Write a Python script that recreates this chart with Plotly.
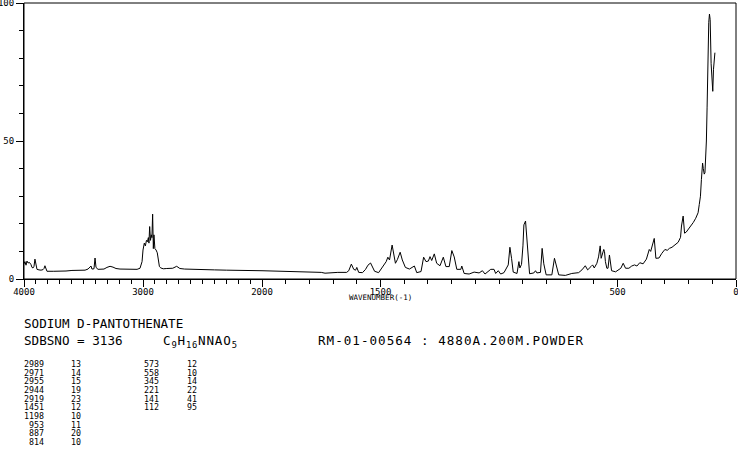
import plotly.graph_objects as go

# ---------------- data ----------------
spec_wn = [4000, 3992, 3983, 3975, 3966, 3954, 3941, 3933, 3924, 3916, 3908, 3899, 3891, 3874, 3857,
           3840, 3832, 3824, 3815, 3807, 3750, 3697, 3647, 3597, 3540, 3487, 3462, 3445, 3437, 3429,
           3412, 3403, 3395, 3378, 3328, 3303, 3277, 3252, 3227, 3193, 3150, 3109, 3050, 3025, 3008,
           3000, 2992, 2989, 2980, 2971, 2963, 2955, 2950, 2944, 2937, 2930, 2925, 2919, 2913, 2908,
           2900, 2890, 2880, 2872, 2862, 2850, 2830, 2800, 2750, 2717, 2690, 2650, 2600, 2500, 2400,
           2300, 2200, 2100, 2000,
           1950, 1900, 1850, 1800, 1750, 1734, 1714, 1680, 1643, 1634, 1623, 1618, 1613, 1605, 1600,
           1592, 1576, 1563, 1553, 1542, 1534, 1525, 1508, 1490, 1476, 1469, 1462, 1451, 1444, 1437,
           1429, 1417, 1408, 1395, 1378, 1357, 1347, 1329, 1318, 1308, 1298, 1291, 1284, 1273, 1263,
           1249, 1235, 1224, 1210, 1199, 1189, 1178, 1161, 1157, 1147, 1126, 1105, 1084, 1070, 1059,
           1035, 1021, 1014, 1003, 993, 979, 961, 954, 947, 940, 924, 916, 912, 905, 899,
           895, 888, 883, 878, 871, 853, 846, 840, 825, 818, 811, 801, 777, 766, 759,
           748, 720, 693, 664, 650, 636, 626, 612, 605, 598, 587, 580, 576, 573, 569,
           564, 558, 555, 551, 545, 540, 534, 529, 525, 508, 500, 486, 476, 466, 452,
           440, 428, 418, 406, 392, 378, 366, 360, 352, 345, 338, 325, 313, 300, 290,
           281, 270, 259, 244, 234, 230, 223, 217, 210, 201, 190, 180, 170, 160, 155,
           150, 146, 143, 141, 138, 134, 131, 128, 125, 122, 118, 115, 112, 109, 105,
           100, 98, 95, 92, 89]
spec_int = [5.5, 6.3, 5.0, 6.5, 5.8, 6.0, 5.2, 4.2, 4.0, 4.6, 7.2, 5.5, 3.5, 3.3, 3.2,
            3.4, 3.8, 4.8, 3.6, 2.8, 2.8, 2.8, 2.9, 3.1, 3.1, 3.2, 3.6, 4.5, 4.7, 3.6,
            3.7, 7.6, 4.2, 3.5, 3.6, 4.2, 4.6, 4.3, 3.8, 3.6, 3.6, 3.6, 3.5, 3.9, 6.3,
            10.5, 12.0, 13.0, 12.0, 14.0, 13.5, 15.0, 13.0, 19.0, 14.0, 16.0, 15.0, 23.5, 11.0, 16.0,
            11.0, 10.5, 9.5, 6.5, 4.5, 4.0, 3.7, 3.8, 3.9, 4.6, 3.8, 3.6, 3.5, 3.4, 3.3,
            3.2, 3.2, 3.2, 3.0,
            2.9, 2.7, 2.6, 2.5, 2.4, 2.1, 2.3, 2.4, 2.4, 3.0, 5.4, 4.5, 3.5, 3.2, 4.2,
            2.4, 2.3, 3.5, 5.0, 5.8, 4.5, 2.8, 2.3, 4.5, 6.3, 7.9, 6.9, 12.3, 9.3, 5.7,
            7.0, 9.7, 6.9, 4.2, 3.6, 4.7, 2.3, 2.7, 7.9, 6.3, 6.5, 8.1, 6.7, 9.1, 5.7,
            4.8, 7.9, 4.5, 4.5, 10.3, 8.0, 3.5, 3.5, 4.7, 2.0, 1.8, 2.5, 2.2, 3.0, 1.8,
            3.5, 3.5, 2.0, 3.0, 1.8, 2.3, 5.1, 11.5, 7.5, 2.5, 2.0, 6.3, 4.0, 5.3, 12.0,
            19.6, 21.0, 14.7, 7.0, 1.9, 2.2, 3.0, 2.2, 2.4, 11.1, 5.5, 1.5, 1.5, 7.5, 4.8,
            1.5, 1.3, 2.0, 2.3, 3.3, 4.8, 3.3, 4.5, 5.1, 4.0, 5.7, 8.0, 11.0, 12.0, 7.5,
            9.0, 10.7, 10.0, 6.3, 3.9, 3.9, 8.7, 4.6, 3.0, 2.6, 3.0, 3.9, 5.7, 3.9, 3.9,
            4.7, 5.1, 4.7, 5.9, 5.5, 7.2, 10.7, 10.0, 12.9, 14.7, 7.5, 7.6, 9.3, 10.7, 10.4,
            11.1, 11.5, 12.3, 13.3, 15.1, 19.2, 22.8, 16.6, 17.0, 18.0, 19.0, 20.5, 22.0, 24.0, 27.0,
            30.0, 36.0, 40.0, 42.0, 40.0, 38.0, 38.5, 44.0, 50.0, 62.0, 85.0, 93.0, 96.0, 94.0, 78.0,
            70.0, 68.0, 76.0, 78.0, 82.0]

peak_wn_1 = [2989, 2971, 2955, 2944, 2919, 1451, 1198, 953, 887, 814]
peak_int_1 = [13, 14, 15, 19, 23, 12, 10, 11, 20, 10]
peak_wn_2 = [573, 558, 345, 221, 141, 112]
peak_int_2 = [12, 10, 14, 22, 41, 95]

x_ticks_hi = [4000, 3000, 2000]
x_ticks_lo = [1500, 500, 0]
y_ticks = [0, 50, 100]

compound = "SODIUM D-PANTOTHENATE"
sdbs_line = "SDBSNO = 3136"
formula = "C<sub>9</sub>H<sub>16</sub>NNAO<sub>5</sub>"
sample = "RM-01-00564 : 4880A.200M.POWDER"
x_title = "WAVENUMBER(-1)"

# ---------------- layout helpers ----------------
W, H = 738, 457
L, R, T, B = 24, 2, 3, 178
PW, PH = W - L - R, H - T - B
split = 238 / PW
MONO = "DejaVu Sans Mono, Liberation Mono, monospace"


def px(x):
    return (x - L) / PW


def py(y):
    return (H - B - y) / PH


hi_wn = [w for w in spec_wn if w >= 2000]
hi_int = [v for w, v in zip(spec_wn, spec_int) if w >= 2000]
lo_wn = [w for w in spec_wn if w <= 2000]
lo_int = [v for w, v in zip(spec_wn, spec_int) if w <= 2000]

fig = go.Figure()
fig.add_trace(go.Scatter(x=hi_wn, y=hi_int, mode="lines", line=dict(color="black", width=1),
                         xaxis="x", yaxis="y", hoverinfo="skip", cliponaxis=False))
fig.add_trace(go.Scatter(x=lo_wn, y=lo_int, mode="lines", line=dict(color="black", width=1),
                         xaxis="x2", yaxis="y", hoverinfo="skip", cliponaxis=False))

axis_common = dict(showgrid=False, zeroline=False, showline=True, linecolor="black", linewidth=1,
                   ticks="outside", ticklen=7, tickwidth=1, tickcolor="black",
                   ticklabeloverflow="allow",
                   tickfont=dict(family=MONO, size=9, color="black"), automargin=False)
minor_x = dict(tickmode="linear", tick0=0, dtick=100, ticks="outside", ticklen=4,
               tickcolor="black", showgrid=False)

fig.update_layout(
    width=W, height=H, margin=dict(l=L, r=R, t=T, b=B, pad=0), autosize=False,
    paper_bgcolor="white", plot_bgcolor="white", showlegend=False,
    xaxis=dict(domain=[0, split], range=[4000, 2000], anchor="y",
               tickmode="array", tickvals=x_ticks_hi, ticktext=[str(v) for v in x_ticks_hi],
               minor=minor_x, ticklabelstandoff=-3, **axis_common),
    xaxis2=dict(domain=[split, 1], range=[2000, 0], anchor="y",
                tickmode="array", tickvals=x_ticks_lo, ticktext=[str(v) for v in x_ticks_lo],
                minor=minor_x, ticklabelstandoff=-3, **axis_common),
    yaxis=dict(domain=[0, 1], range=[0, 100], anchor="x",
               tickmode="array", tickvals=y_ticks, ticktext=[str(v) for v in y_ticks],
               minor=dict(tickmode="linear", tick0=0, dtick=10, ticks="outside", ticklen=4,
                          tickcolor="black", showgrid=False),
               **axis_common),
)

fig.add_shape(type="rect", xref="paper", yref="paper", x0=0, x1=1, y0=0, y1=1,
              line=dict(color="black", width=1), layer="above")

ann = []
ann.append(dict(text=x_title, xref="x2", x=1500, yref="paper", y=py(297.5), xanchor="center",
                yanchor="middle", showarrow=False, borderpad=0,
                font=dict(family=MONO, size=7.5, color="black")))
big = dict(family=MONO, size=12.6, color="black")


def spaced(t, ls):
    return '<span style="letter-spacing:%spx">%s</span>' % (ls, t)


ann.append(dict(text=compound, xref="paper", x=px(23), yref="paper", y=py(323), xanchor="left",
                yanchor="middle", showarrow=False, borderpad=0, font=big))
ann.append(dict(text=sdbs_line, xref="paper", x=px(23), yref="paper", y=py(340), xanchor="left",
                yanchor="middle", showarrow=False, borderpad=0, font=big))
ann.append(dict(text=spaced(formula, 0.8), xref="paper", x=px(162), yref="paper", y=py(341),
                xanchor="left", yanchor="middle", showarrow=False, borderpad=0, font=big))
ann.append(dict(text=spaced(sample, 1.0), xref="paper", x=px(317), yref="paper", y=py(340),
                xanchor="left", yanchor="middle", showarrow=False, borderpad=0, font=big))

small = dict(family=MONO, size=8.3, color="black")
row0, dy = 364, 8.67
for i, (w, v) in enumerate(zip(peak_wn_1, peak_int_1)):
    ann.append(dict(text=str(w), xref="paper", x=px(45), yref="paper", y=py(row0 + i * dy),
                    xanchor="right", yanchor="middle", showarrow=False, borderpad=0, font=small))
    ann.append(dict(text=str(v), xref="paper", x=px(82), yref="paper", y=py(row0 + i * dy),
                    xanchor="right", yanchor="middle", showarrow=False, borderpad=0, font=small))
for i, (w, v) in enumerate(zip(peak_wn_2, peak_int_2)):
    ann.append(dict(text=str(w), xref="paper", x=px(160), yref="paper", y=py(row0 + i * dy),
                    xanchor="right", yanchor="middle", showarrow=False, borderpad=0, font=small))
    ann.append(dict(text=str(v), xref="paper", x=px(198), yref="paper", y=py(row0 + i * dy),
                    xanchor="right", yanchor="middle", showarrow=False, borderpad=0, font=small))

fig.update_layout(annotations=ann)

post = """
document.documentElement.style.margin='0';
document.body.style.margin='0';
document.body.style.padding='0';
document.body.style.overflow='hidden';
var gd=document.getElementById('{plot_id}');
Plotly.relayout(gd,{width:%d,height:%d});
""" % (W, H)

fig.write_html("out.html", config={"responsive": False, "displayModeBar": False},
               default_width="%dpx" % W, default_height="%dpx" % H, post_script=post)
